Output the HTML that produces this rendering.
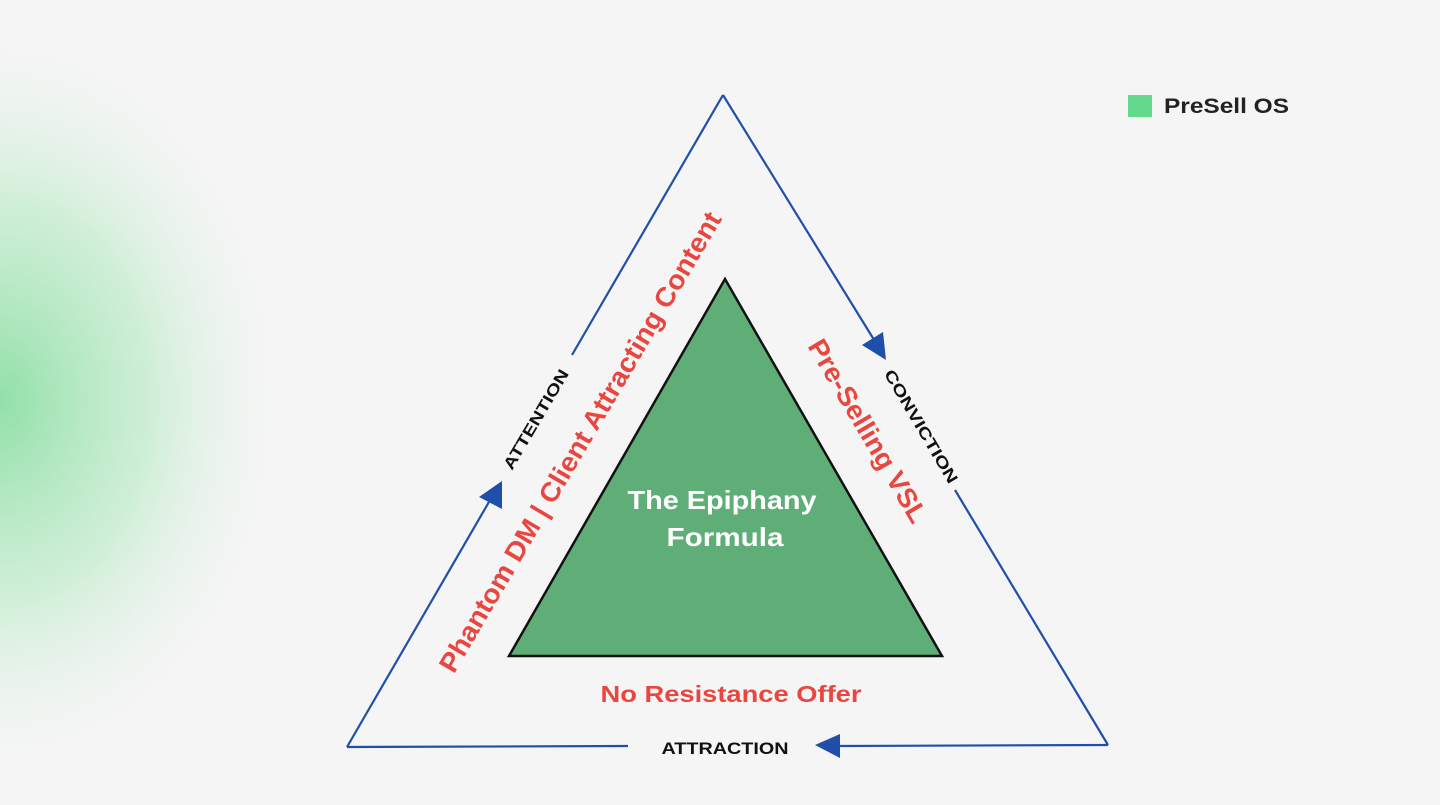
<!DOCTYPE html>
<html><head><style>
html,body{margin:0;padding:0;width:1440px;height:805px;overflow:hidden;background:#f5f5f5;font-family:"Liberation Sans",sans-serif}
</style></head><body>
<svg width="1440" height="805" viewBox="0 0 1440 805" xmlns="http://www.w3.org/2000/svg">
<defs>
<radialGradient id="g" cx="0" cy="400" r="300" gradientUnits="userSpaceOnUse" gradientTransform="translate(0,400) scale(1,1.3) translate(0,-400)">
<stop offset="0" stop-color="#7fdc9a" stop-opacity="0.85"/>
<stop offset="0.5" stop-color="#a8e8b8" stop-opacity="0.5"/>
<stop offset="1" stop-color="#f5f5f5" stop-opacity="0"/>
</radialGradient>
</defs>
<rect width="1440" height="805" fill="#f5f5f5"/>
<rect x="0" y="0" width="400" height="805" fill="url(#g)"/>
<g stroke="#1f4fa8" stroke-width="2.2" fill="none">
<line x1="347" y1="747" x2="493" y2="495"/>
<line x1="572" y1="355" x2="723" y2="95"/>
<line x1="723" y1="95" x2="876" y2="343"/>
<line x1="955" y1="490" x2="1108" y2="745"/>
<line x1="1108" y1="745" x2="835" y2="746"/>
<line x1="628" y1="746" x2="347" y2="747"/>
</g>
<g fill="#1f4fa8">
<polygon points="502,481 479,497 502,509"/>
<polygon points="886,360 862,345 883,332"/>
<polygon points="815,745 840,734 840,758"/>
</g>
<polygon points="725,279 509,656 942,656" fill="#5fae78" stroke="#111" stroke-width="2.5" stroke-linejoin="miter"/>
<g font-family="Liberation Sans, sans-serif" font-weight="bold" text-anchor="middle">
<text x="722" y="509" fill="#fff" font-size="26" textLength="189" lengthAdjust="spacingAndGlyphs">The Epiphany</text>
<text x="725" y="546" fill="#fff" font-size="26" textLength="117" lengthAdjust="spacingAndGlyphs">Formula</text>
<text transform="translate(582,443) rotate(-59.5)" fill="#e8463f" font-size="27" dominant-baseline="middle" textLength="529" lengthAdjust="spacingAndGlyphs">Phantom DM | Client Attracting Content</text>
<text transform="translate(537,420) rotate(-59.5)" fill="#111" font-size="16" dominant-baseline="middle" textLength="113" lengthAdjust="spacingAndGlyphs">ATTENTION</text>
<text transform="translate(866,432) rotate(59.5)" fill="#e8463f" font-size="27" dominant-baseline="middle" textLength="208" lengthAdjust="spacingAndGlyphs">Pre-Selling VSL</text>
<text transform="translate(920,427) rotate(59.5)" fill="#111" font-size="16" dominant-baseline="middle" textLength="129" lengthAdjust="spacingAndGlyphs">CONVICTION</text>
<text x="731" y="702" fill="#e8463f" font-size="23" textLength="261" lengthAdjust="spacingAndGlyphs">No Resistance Offer</text>
<text x="725" y="754" fill="#111" font-size="17" textLength="127" lengthAdjust="spacingAndGlyphs">ATTRACTION</text>
</g>
<rect x="1128" y="95" width="24" height="22" fill="#63d98e"/>
<text x="1164" y="113" font-family="Liberation Sans, sans-serif" font-weight="bold" font-size="21" fill="#222" textLength="125" lengthAdjust="spacingAndGlyphs">PreSell OS</text>
</svg>
</body></html>
